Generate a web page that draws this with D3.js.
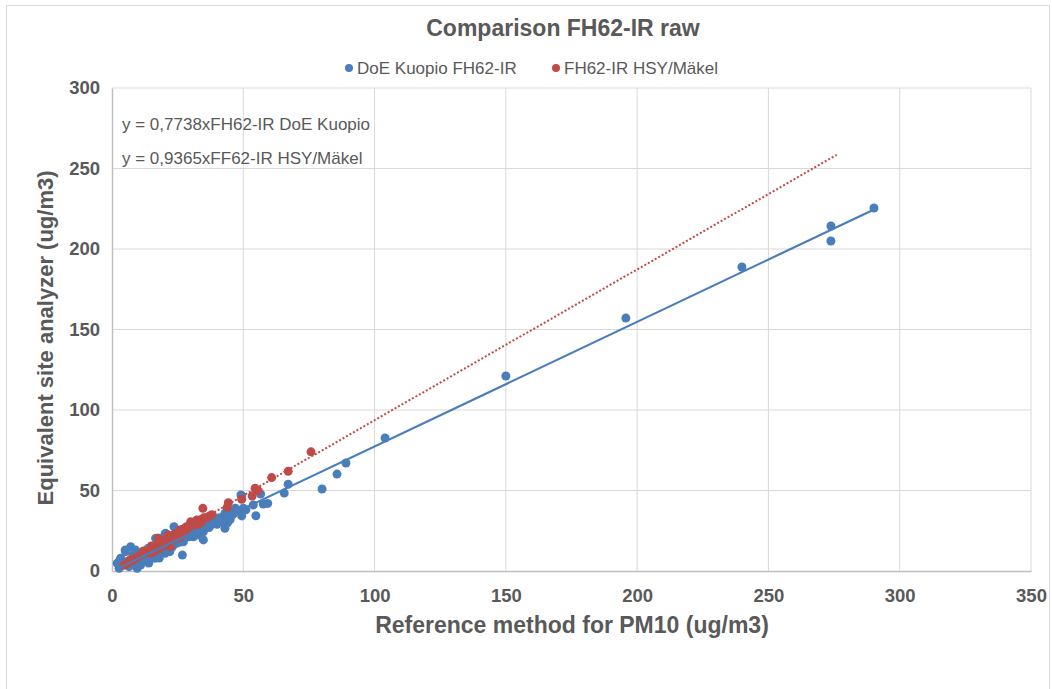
<!DOCTYPE html>
<html>
<head>
<meta charset="utf-8">
<script src="https://cdnjs.cloudflare.com/ajax/libs/d3/7.8.5/d3.min.js"></script>
<style>
    body { margin: 0; background: #fff; }
    text { font-family: "Liberation Sans", Arial, sans-serif; fill: #595959; }
</style>
</head>
<body>
<div id="chart"></div>
<script>
// data: [reference PM10, analyzer]
let doeKuopio = [
    [290.2,225.5],[273.8,214.3],[273.8,205],[239.9,188.8],[195.7,157.1],[150,121.1],[104,82.6],
    [89.1,67.1],[85.7,60.2],[80,50.9],[67.1,53.9],[65.6,48.4],[59.3,42],[57.6,41.6],[56.6,47.8],
    [53.8,41],[54.8,34.3],[49.4,46.8],[49.4,34.2],[48.1,37.3],[43,35.8],[41.8,30.6],[43,26.5],
    [39.9,30.6],[38.6,33.7],[39.2,32.1],[37.3,28.6],[34.8,24.4],[34.8,19.3],[32.9,22.4],[31,21.3],
    [29,25.5],[29.3,21.3],[27.2,18.2],[26.8,9.9],[24.6,17.2],[23.6,27.5],[23.3,22.4],[20.4,23.4],
    [20.2,23],[19.5,19.3],[17.6,20.3],[17.6,12],[16.6,20.3],[16.4,7.9],[16.4,13],[16,14.1],[20.2,11],
    [13.8,14.1],[13.4,11],[10.9,3.7],[9.6,1.7],[9.4,2.7],[9,13],[7.1,15.1],[6.5,2.7],[5.2,12],[5,13],
    [4.6,3.7],[3.3,7.9],[3,6.8],[2.7,1.7],[2,4.8],
    [8,6],[10,8],[11,9],[12,10],[14,11.5],[15,10],[17,13],[18,15],[19,14],[21,16],[22,17],[24,19],
    [25,20],[26,18],[27,22],[28,21],[30,23],[31,24],[33,25],[34,27],[35,26],[36,28],[37,27],[38,29],
    [40,31],[41,33],[42,32],[44,34],[45,36],[46,35],[12,6],[14,5],[18,8],[22,12],[8,10],[6,6],[10,11],
    [13,8],[20,14],[23,15],[26,24],[27,26],[30,27],[32,26],[35,29],[36,31],[38,30],[40,29],[44,30],
    [45,32],[47,39],[50,39],[51,38],[49.1,47.2]
];

let hsyMakel = [
    [75.8,74],[67.1,61.9],[60.8,58],[54.5,51.4],[55.7,49.9],[53.4,46.6],[49.4,44.5],[44.3,42.4],
    [43.9,39.6],[34.6,38.9],[34.8,32.7],[34.2,30.6],[32.3,31.7],[31,29.6],[29.7,28.6],[27.8,26.5],
    [25.9,25.5],[24,21.3],[22.1,17.2],[21.4,22.4],[17.6,20.3],[28.4,27.5],[22.1,15.1],[14.5,11],
    [30,30.6],[4.6,3.7],
    [6,5],[7,7],[8,6.5],[9,8],[10,9],[11,10],[12,11],[13,12],[14,13],[15,14],[16,15],[17,16],[18,17],
    [19,18],[20,19],[21,20],[23,22],[24,23],[25,23],[26,24],[27,26],[28,25],[29,27],[30,28],[31,30],
    [32,29],[33,31],[34,32],[35,33],[36,33],[37,34],[38,35],[20,16],[18,14],[16,12],[26,21],[24,20],
    [15,15.5],[12,12.5],[33,28]
];

let seriesNames = ["DoE Kuopio FH62-IR", "FH62-IR HSY/Mäkel"];
let slopes = [0.7738, 0.9365];
let redTrendEnd = 276; // excel forecast forward
let equations = ["y = 0,7738xFH62-IR DoE Kuopio", "y = 0,9365xFF62-IR HSY/Mäkel"];
let xTicks = [0, 50, 100, 150, 200, 250, 300, 350];
let yTicks = [0, 50, 100, 150, 200, 250, 300];

let colors = ["#4a7ebb", "#be4b48"];

let margin = {top: 88, right: 21, bottom: 118, left: 112};
let width = 1052 - margin.left - margin.right;
let height = 689 - margin.top - margin.bottom;

let root = d3.select("#chart").append("svg")
    .attr("width", 1052)
    .attr("height", 689);

// outer chart frame
root.append("rect")
    .attr("x", 6.5).attr("y", 5.5)
    .attr("width", 1043).attr("height", 700)
    .attr("fill", "none")
    .attr("stroke", "#d9d9d9");

let svg = root.append("g")
    .attr("transform", "translate(" + margin.left + "," + margin.top + ")");

let x = d3.scaleLinear().domain([0, 350]).range([0, width]);
let y = d3.scaleLinear().domain([0, 300]).range([height, 0]);

// gridlines
svg.append("g")
    .selectAll("line.v")
    .data(xTicks.slice(1))
    .enter().append("line")
    .attr("x1", d => x(d)).attr("x2", d => x(d))
    .attr("y1", 0).attr("y2", height)
    .attr("stroke", "#d9d9d9");

svg.append("g")
    .selectAll("line.h")
    .data(yTicks.slice(1))
    .enter().append("line")
    .attr("x1", 0).attr("x2", width)
    .attr("y1", d => y(d)).attr("y2", d => y(d))
    .attr("stroke", "#d9d9d9");

// axes, labels only like excel
let xAxis = svg.append("g")
    .attr("transform", "translate(0," + height + ")")
    .call(d3.axisBottom(x).tickValues(xTicks).tickSize(0).tickPadding(18));
let yAxis = svg.append("g")
    .call(d3.axisLeft(y).tickValues(yTicks).tickSize(0).tickPadding(12));

[xAxis, yAxis].forEach(function (a) {
    a.select(".domain").attr("stroke", "#bfbfbf").attr("stroke-width", 1.5);
    a.selectAll("text")
        .style("font-size", "18.5px")
        .style("font-weight", "bold")
        .style("font-family", "'Liberation Sans', Arial, sans-serif")
        .attr("fill", "#595959");
});

// points
let allSeries = [doeKuopio, hsyMakel];
allSeries.forEach(function (data, i) {
    svg.append("g")
        .selectAll("circle")
        .data(data)
        .enter().append("circle")
        .attr("cx", d => x(d[0]))
        .attr("cy", d => y(d[1]))
        .attr("r", 4.5)
        .attr("fill", colors[i]);
});

// trendlines
let blueMin = d3.min(doeKuopio, d => d[0]);
let blueMax = d3.max(doeKuopio, d => d[0]);
let redMin = d3.min(hsyMakel, d => d[0]);

svg.append("line")
    .attr("x1", x(blueMin)).attr("y1", y(slopes[0] * blueMin))
    .attr("x2", x(blueMax)).attr("y2", y(slopes[0] * blueMax))
    .attr("stroke", colors[0])
    .attr("stroke-width", 2.2);

svg.append("line")
    .attr("x1", x(redMin)).attr("y1", y(slopes[1] * redMin))
    .attr("x2", x(redTrendEnd)).attr("y2", y(slopes[1] * redTrendEnd))
    .attr("stroke", colors[1])
    .attr("stroke-width", 2)
    .style("stroke-dasharray", "2,2");

// equations
equations.forEach(function (t, i) {
    svg.append("text")
        .attr("x", 10)
        .attr("y", 42 + i * 34)
        .style("font-size", "17px")
        .text(t);
});

// title
root.append("text")
    .attr("x", 563)
    .attr("y", 36)
    .attr("text-anchor", "middle")
    .style("font-size", "23px")
    .style("font-weight", "bold")
    .text("Comparison FH62-IR raw");

// legend
let legendX = [349, 556];
seriesNames.forEach(function (n, i) {
    root.append("circle")
        .attr("cx", legendX[i]).attr("cy", 68)
        .attr("r", 4)
        .attr("fill", colors[i]);
    root.append("text")
        .attr("x", legendX[i] + 8)
        .attr("y", 74)
        .style("font-size", "17px")
        .text(n);
});

// axis titles
root.append("text")
    .attr("x", 572)
    .attr("y", 633)
    .attr("text-anchor", "middle")
    .style("font-size", "23px")
    .style("font-weight", "bold")
    .text("Reference method for PM10 (ug/m3)");

root.append("text")
    .attr("transform", "translate(53,338) rotate(-90)")
    .attr("text-anchor", "middle")
    .style("font-size", "22px")
    .style("font-weight", "bold")
    .text("Equivalent site analyzer (ug/m3)");
</script>
</body>
</html>
